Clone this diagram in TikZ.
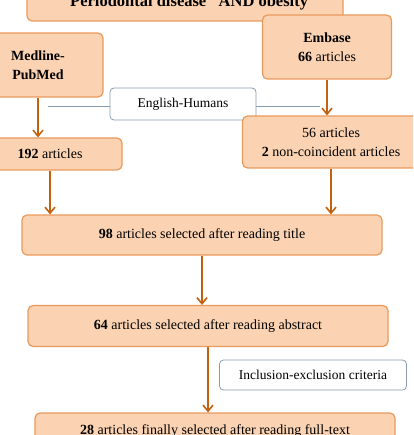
\documentclass[tikz,border=0pt]{standalone}
\usepackage{fontspec}
\setmainfont{Liberation Serif}
\usetikzlibrary{arrows.meta}

\definecolor{FlowFill}{HTML}{FBD3B2}
\definecolor{FlowEdge}{HTML}{E89A5C}
\definecolor{FlowArrow}{HTML}{C5600F}
\definecolor{FilterEdge}{HTML}{8A9AB0}

\begin{document}
\begin{tikzpicture}[x=1pt,y=-1pt,
    stage/.style={draw=FlowEdge,fill=FlowFill,line width=1.2pt,rounded corners=5pt,align=center,
      font=\fontsize{14}{19}\selectfont,inner sep=0pt},
    filter/.style={draw=FilterEdge,fill=white,line width=0.8pt,rounded corners=4pt,align=center,
      font=\fontsize{13.5}{16}\selectfont,inner sep=0pt},
    flow/.style={draw=FlowArrow,line width=1.6pt,-{Straight Barb[length=6pt,width=10pt,line width=1.6pt]}}]
    \useasboundingbox (0,0) rectangle (413,435);
    \clip (0,0) rectangle (413,435);
    % search string and the two databases
    \node[stage,minimum width=316pt,minimum height=36pt,font=\fontsize{16.5}{19}\selectfont] (query) at (185,3) {\textbf{“Periodontal disease” AND obesity}};
    \node[stage,minimum width=130pt,minimum height=64pt] (medline) at (38,65) {\textbf{Medline-}\\\textbf{PubMed}};
    \node[stage,minimum width=129pt,minimum height=64pt] (embase) at (327,47) {\textbf{Embase}\\\textbf{66} articles};
    % language filter
    \coordinate (filterL) at (48,106);
    \coordinate (filterR) at (320,106);
    \draw[FilterEdge,line width=0.9pt] (filterL) -- (filterR);
    \node[filter,minimum width=146pt,minimum height=32pt] (english) at (183,104) {English-Humans};
    % results per database
    \node[stage,minimum width=144pt,minimum height=32pt] (n192) at (50,154) {\textbf{192} articles};
    \node[stage,minimum width=177pt,minimum height=52pt] (n56) at (331,142) {56 articles\\\textbf{2} non-coincident articles};
    % screening
    \node[stage,minimum width=360pt,minimum height=40pt] (n98) at (202,235) {\textbf{98} articles selected after reading title};
    \node[stage,minimum width=360pt,minimum height=41pt] (n64) at (208,326) {\textbf{64} articles selected after reading abstract};
    \node[filter,minimum width=187pt,minimum height=30pt] (criteria) at (313,375) {Inclusion-exclusion criteria};
    \node[stage,minimum width=360pt,minimum height=36pt] (n28) at (215,431) {\textbf{28} articles finally selected after reading full-text};

    \draw[flow] (medline) -- (medline |- n192.north);
    \draw[flow] (embase) -- (embase |- n56.north);
    \draw[flow] (n192) -- (n192 |- n98.north);
    \draw[flow] (n56) -- (n56 |- n98.north);
    \draw[flow] (n98) -- (n98 |- n64.north);
    \draw[flow] (n64) -- (n64 |- n28.north);
\end{tikzpicture}
\end{document}
